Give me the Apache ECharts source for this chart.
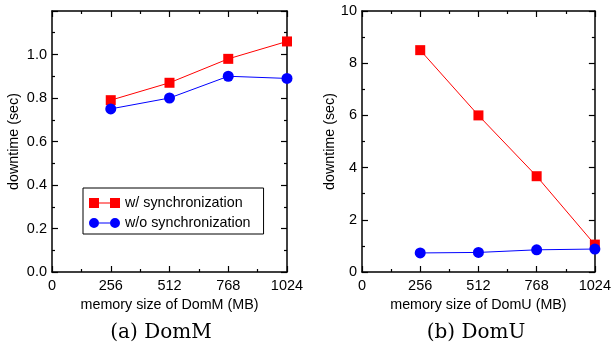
<!DOCTYPE html>
<html><head><meta charset="utf-8">
<script src="https://cdn.jsdelivr.net/npm/echarts@6/dist/echarts.min.js"></script>
<style>html,body{margin:0;padding:0;background:#fff}#c{width:614px;height:346px}</style>
</head><body><div id="c"></div>
<script>
const memSizes = [256, 512, 768, 1024];
const domMSync = [0.79, 0.87, 0.98, 1.06];
const domMNoSync = [0.75, 0.80, 0.90, 0.89];
const domUSync = [8.5, 6.0, 3.67, 1.05];
const domUNoSync = [0.73, 0.75, 0.85, 0.88];
const xTicks = [0, 256, 512, 768, 1024];
const seriesNames = ['w/ synchronization', 'w/o synchronization'];
const xTitles = ['memory size of DomM (MB)', 'memory size of DomU (MB)'];
const captions = ['(a) DomM', '(b) DomU'];

const chart = echarts.init(document.getElementById('c'), null, {renderer: 'canvas'});
const font = "'Liberation Sans', Arial, sans-serif";
const serif = "'DejaVu Serif', 'Liberation Serif', serif";
const pair = (xs, ys) => xs.map((x, i) => [x, ys[i]]);

function xAx(grid, pos, title) {
  return {
    type: 'value', gridIndex: grid, position: pos, min: xTicks[0], max: xTicks[xTicks.length - 1], interval: 256,
    axisLine: {show: true, onZero: false, lineStyle: {color: '#000', width: 1.5}},
    axisTick: {show: true, inside: true, length: 6, lineStyle: {color: '#000', width: 1.2}},
    minorTick: {show: true, splitNumber: 2, length: 3, lineStyle: {color: '#000', width: 1.2}},
    splitLine: {show: false},
    axisLabel: {show: pos === 'bottom', color: '#000', fontSize: 14.5, fontFamily: font, margin: 6,
      formatter: v => String(v)},
    name: pos === 'bottom' ? title : '', nameLocation: 'middle', nameGap: 24,
    nameTextStyle: {color: '#000', fontSize: 14.3, fontFamily: font}
  };
}
function yAx(grid, pos, max, interval, fmt) {
  return {
    type: 'value', gridIndex: grid, position: pos, min: 0, max: max, interval: interval,
    axisLine: {show: true, onZero: false, lineStyle: {color: '#000', width: 1.5}},
    axisTick: {show: true, inside: true, length: 6, lineStyle: {color: '#000', width: 1.2}},
    minorTick: {show: true, splitNumber: 2, length: 3, lineStyle: {color: '#000', width: 1.2}},
    splitLine: {show: false},
    axisLabel: {show: pos === 'left', color: '#000', fontSize: 14.5, fontFamily: font, margin: 5,
      formatter: v => (v >= max - 1e-9 && max === 1.2) ? '' : fmt(v)},
    name: pos === 'left' ? 'downtime (sec)' : '', nameLocation: 'middle', nameGap: pos === 'left' ? (max === 1.2 ? 31 : 25) : 0,
    nameTextStyle: {color: '#000', fontSize: 14.3, fontFamily: font}
  };
}

const sqPath = 'path://M0,0h10v10h-10z M10,4.4h11v1.2h-11z M21,0h10v10h-10z';
const ciPath = 'path://M0,5a5,5 0 1,0 10,0a5,5 0 1,0 -10,0z M10,4.4h11v1.2h-11z M21,5a5,5 0 1,0 10,0a5,5 0 1,0 -10,0z';

function ser(name, xi, yi, data, color, symbol, size) {
  return {
    name: name, type: 'line', xAxisIndex: xi, yAxisIndex: yi, data: data,
    symbol: symbol, symbolSize: size, showSymbol: true,
    lineStyle: {color: color, width: 1}, itemStyle: {color: color},
    animation: false, z: 3
  };
}

chart.setOption({
  animation: false,
  grid: [
    {left: 52, top: 11, width: 235, height: 261},
    {left: 362, top: 11, width: 236, height: 261}
  ],
  xAxis: [xAx(0, 'bottom', xTitles[0]), xAx(0, 'top'), xAx(1, 'bottom', xTitles[1]), xAx(1, 'top')],
  yAxis: [
    yAx(0, 'left', 1.2, 0.2, v => v.toFixed(1)), yAx(0, 'right', 1.2, 0.2, v => v.toFixed(1)),
    yAx(1, 'left', 10, 2, v => String(v)), yAx(1, 'right', 10, 2, v => String(v))
  ],
  legend: {
    left: 83, top: 188, orient: 'vertical', itemGap: 6, padding: [8, 13, 4, 6],
    borderColor: '#000', borderWidth: 1, backgroundColor: '#fff',
    itemWidth: 31, itemHeight: 10, symbolKeepAspect: true,
    textStyle: {color: '#000', fontSize: 14.3, fontFamily: font, padding: [0, 0, 0, 0]},
    data: [
      {name: seriesNames[0], icon: sqPath, itemStyle: {color: '#ff0000'}},
      {name: seriesNames[1], icon: ciPath, itemStyle: {color: '#0000ff'}}
    ]
  },
  title: [
    {text: captions[0], left: 156, top: 318, textAlign: 'center', textStyle: {fontFamily: serif, fontSize: 20, fontWeight: 'normal', color: '#000'}},
    {text: captions[1], left: 471, top: 318, textAlign: 'center', textStyle: {fontFamily: serif, fontSize: 20, fontWeight: 'normal', color: '#000'}}
  ],
  series: [
    ser(seriesNames[0], 0, 0, pair(memSizes, domMSync), '#ff0000', 'rect', 10),
    ser(seriesNames[1], 0, 0, pair(memSizes, domMNoSync), '#0000ff', 'circle', 11),
    ser(seriesNames[0], 2, 2, pair(memSizes, domUSync), '#ff0000', 'rect', 10),
    ser(seriesNames[1], 2, 2, pair(memSizes, domUNoSync), '#0000ff', 'circle', 11)
  ]
});
</script></body></html>
